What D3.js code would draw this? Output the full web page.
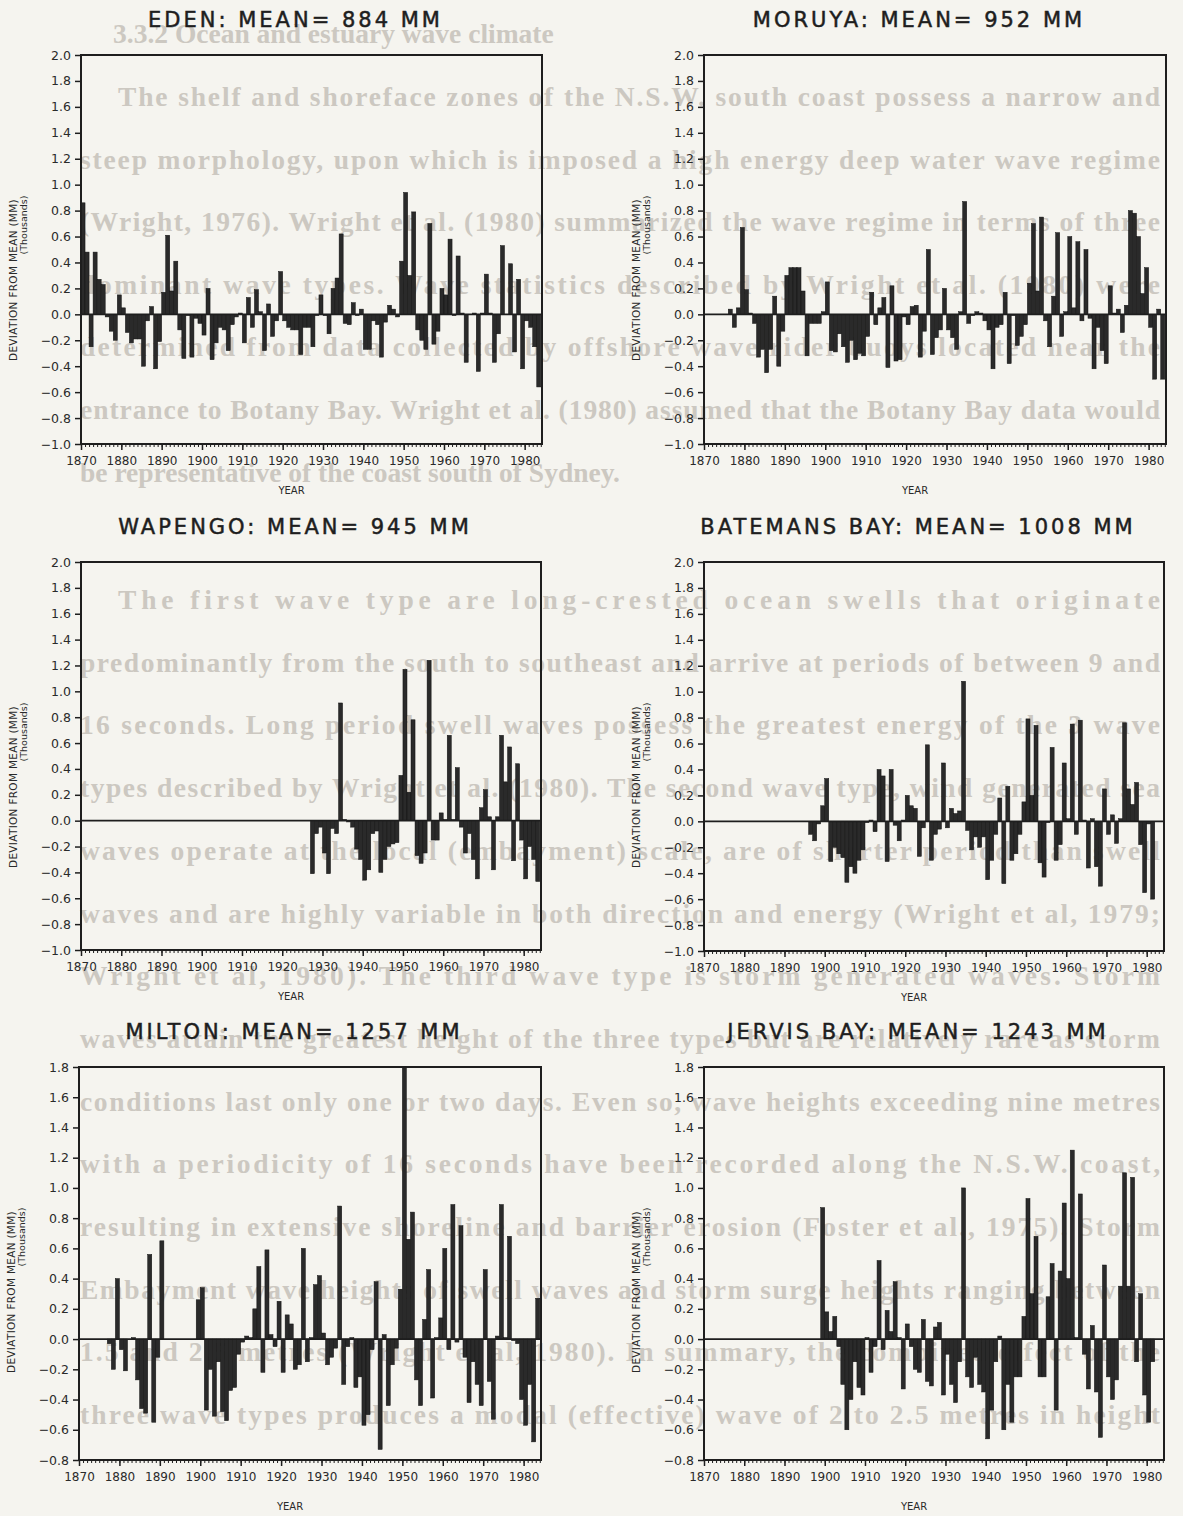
<!DOCTYPE html>
<html>
<head>
<meta charset="utf-8">
<script src="https://cdn.jsdelivr.net/npm/d3@7"></script>
<style>
  body { margin: 0; background: #f5f4ef; }
  svg { display: block; }
</style>
</head>
<body>
<div id="page"></div>
<script>
// annual rainfall, deviation from station mean (thousands of mm), 1870-1983
// null = no record for that year
const firstYear = 1870;

const edenDev = [
  0.86, 0.48, -0.25, 0.48, 0.27, 0.23, -0.02, -0.13, -0.2, 0.15,
  0.05, -0.14, -0.22, -0.19, -0.19, -0.4, -0.05, 0.06, -0.42, -0.21,
  0.17, 0.61, 0.18, 0.41, -0.12, -0.34, -0.01, -0.33, -0.03, -0.07,
  -0.16, 0.2, -0.35, -0.22, -0.1, -0.12, -0.28, -0.08, -0.02, 0.01,
  -0.22, 0.13, -0.1, 0.19, 0.02, -0.28, 0.08, -0.17, -0.05, 0.33,
  -0.05, -0.1, -0.12, -0.12, -0.31, -0.1, -0.1, -0.25, -0.01, 0.15,
  -0.01, -0.15, 0.2, 0.28, 0.62, -0.07, -0.08, 0.09, -0.01, 0.04,
  -0.27, -0.27, -0.05, -0.08, -0.33, -0.06, 0.07, 0.04, -0.02, 0.41,
  0.94, 0.3, 0.79, -0.12, -0.2, -0.27, 0.7, -0.23, -0.13, 0.2,
  0.15, 0.58, -0.01, 0.45, 0.01, -0.37, 0.0, 0.01, -0.44, 0.01,
  0.31, 0.01, -0.37, -0.15, 0.53, 0.0, 0.39, -0.29, 0.27, -0.42,
  -0.05, -0.1, -0.25, -0.56
];

const moruyaDev = [
  null, null, null, null, null, null, 0.04, -0.1, 0.05, 0.67,
  0.19, 0.01, -0.07, -0.33, -0.27, -0.45, -0.27, 0.14, -0.4, -0.13,
  0.3, 0.36, 0.36, 0.36, 0.18, -0.32, -0.07, -0.07, -0.07, 0.02,
  0.25, -0.28, -0.29, -0.15, -0.25, -0.37, -0.2, -0.35, -0.3, -0.32,
  -0.17, 0.17, -0.08, 0.05, 0.13, -0.41, 0.22, -0.36, -0.35, -0.02,
  -0.08, 0.06, 0.07, -0.33, -0.13, 0.5, -0.31, -0.18, -0.12, 0.2,
  -0.12, -0.18, -0.27, 0.02, 0.87, -0.07, -0.01, 0.02, 0.01, -0.05,
  -0.12, -0.42, -0.1, -0.08, 0.17, -0.38, -0.01, -0.24, -0.17, -0.08,
  0.24, 0.7, 0.18, 0.75, -0.05, -0.25, 0.14, 0.63, -0.17, 0.02,
  0.6, 0.05, 0.56, -0.05, 0.5, -0.03, -0.42, -0.1, -0.28, -0.38,
  0.22, 0.01, 0.04, -0.14, 0.07, 0.8, 0.78, 0.6, 0.16, 0.36,
  -0.1, -0.5, 0.04, -0.5
];

const wapengoDev = [
  null, null, null, null, null, null, null, null, null, null,
  null, null, null, null, null, null, null, null, null, null,
  null, null, null, null, null, null, null, null, null, null,
  null, null, null, null, null, null, null, null, null, null,
  null, null, null, null, null, null, null, null, null, null,
  null, null, null, null, null, null, null, -0.41, -0.1, -0.05,
  -0.25, -0.41, -0.06, -0.1, 0.91, 0.01, -0.01, -0.05, -0.22, -0.3,
  -0.46, -0.38, -0.1, -0.08, -0.4, -0.3, -0.2, -0.18, -0.17, 0.35,
  1.17, 0.22, 0.78, -0.27, -0.33, -0.25, 1.24, -0.15, -0.15, 0.06,
  0.01, 0.66, 0.01, 0.41, -0.05, -0.25, -0.1, -0.3, -0.45, 0.1,
  0.24, 0.03, -0.38, 0.03, 0.66, 0.3, 0.57, -0.31, 0.44, -0.15,
  -0.45, -0.2, -0.3, -0.47
];

const batemansDev = [
  null, null, null, null, null, null, null, null, null, null,
  null, null, null, null, null, null, null, null, null, null,
  null, null, null, null, null, null, -0.1, -0.15, -0.02, 0.12,
  0.33, -0.31, -0.2, -0.25, -0.28, -0.47, -0.35, -0.4, -0.3, -0.22,
  -0.01, 0.01, -0.08, 0.4, 0.35, -0.31, 0.4, -0.03, -0.15, 0.01,
  0.2, 0.12, 0.1, -0.27, -0.05, 0.59, -0.3, -0.1, -0.06, 0.45,
  -0.05, 0.1, 0.06, 0.08, 1.08, -0.07, -0.22, -0.12, -0.2, -0.12,
  -0.45, -0.3, -0.1, 0.18, -0.48, 0.27, -0.3, -0.25, -0.1, 0.15,
  0.79, 0.2, 0.74, -0.32, -0.43, -0.01, 0.57, -0.3, -0.18, 0.45,
  0.02, 0.75, -0.1, 0.78, 0.01, -0.36, 0.02, -0.35, -0.5, 0.25,
  -0.1, 0.05, -0.17, 0.02, 0.76, 0.25, 0.13, 0.3, -0.18, -0.55,
  -0.02, -0.6, null, null
];

const miltonDev = [
  null, null, null, null, null, null, null, -0.03, -0.2, 0.4,
  -0.07, -0.21, 0.0, 0.01, -0.27, -0.46, -0.49, 0.56, -0.55, -0.12,
  0.65, null, null, null, null, null, null, null, null, 0.26,
  0.34, -0.47, -0.2, -0.51, -0.15, -0.48, -0.54, -0.34, -0.32, -0.1,
  -0.02, 0.02, 0.01, 0.2, 0.48, -0.22, 0.59, 0.03, -0.05, 0.25,
  -0.22, 0.16, 0.1, -0.2, -0.17, 0.6, -0.15, 0.01, 0.36, 0.42,
  0.04, -0.17, -0.12, -0.06, 0.88, -0.3, -0.05, 0.01, -0.32, -0.25,
  -0.57, -0.5, -0.07, 0.38, -0.73, 0.03, -0.44, -0.17, -0.06, 0.33,
  1.8, 0.66, 0.84, -0.27, -0.44, 0.13, 0.46, -0.39, 0.01, 0.14,
  0.6, -0.07, 0.89, -0.02, 0.75, -0.12, -0.42, -0.15, -0.3, -0.44,
  0.46, -0.28, -0.53, 0.02, 0.89, 0.01, 0.68, -0.01, -0.03, -0.4,
  -0.57, -0.3, -0.68, 0.27
];

const jervisDev = [
  null, null, null, null, null, null, null, null, null, null,
  null, null, null, null, null, null, null, null, null, null,
  null, null, null, null, null, null, null, null, null, 0.87,
  0.18, 0.05, 0.15, -0.05, -0.3, -0.6, -0.4, -0.15, -0.32, -0.37,
  0.01, -0.22, -0.05, 0.52, -0.07, 0.19, 0.05, 0.38, 0.01, -0.33,
  0.1, -0.05, -0.2, -0.22, 0.13, -0.28, -0.31, 0.08, 0.11, -0.37,
  -0.1, -0.3, -0.42, -0.15, 1.0, -0.25, -0.32, -0.12, -0.3, -0.35,
  -0.66, -0.47, -0.15, 0.02, -0.6, -0.3, -0.55, -0.25, -0.25, 0.15,
  0.93, 0.3, 0.68, -0.25, -0.25, 0.28, 0.5, -0.47, 0.45, 0.9,
  0.4, 1.25, 0.01, 0.96, -0.1, -0.33, 0.09, -0.35, -0.65, 0.49,
  -0.25, -0.4, -0.27, 0.35, 1.1, 0.35, 1.07, -0.15, 0.3, -0.37,
  -0.55, -0.15, null, null
];

const stationNames = ["EDEN", "MORUYA", "WAPENGO", "BATEMANS BAY", "MILTON", "JERVIS BAY"];
const stationMeans = [884, 952, 945, 1008, 1257, 1243];
const stationSeries = [edenDev, moruyaDev, wapengoDev, batemansDev, miltonDev, jervisDev];

const yTicksUpper = [-1.0, -0.8, -0.6, -0.4, -0.2, 0.0, 0.2, 0.4, 0.6, 0.8, 1.0, 1.2, 1.4, 1.6, 1.8, 2.0];
const yTicksLower = [-0.8, -0.6, -0.4, -0.2, 0.0, 0.2, 0.4, 0.6, 0.8, 1.0, 1.2, 1.4, 1.6, 1.8];
const decadeTicks = [1870, 1880, 1890, 1900, 1910, 1920, 1930, 1940, 1950, 1960, 1970, 1980];

// faded text from the page behind (scan bleed-through)
const bgHeading = "3.3.2 Ocean and estuary wave climate";
const bgPara1 = [
  "The shelf and shoreface zones of the N.S.W. south coast possess a narrow and",
  "steep morphology, upon which is imposed a high energy deep water wave regime",
  "(Wright, 1976). Wright et al. (1980) summarized the wave regime in terms of three",
  "dominant wave types. Wave statistics described by Wright et al. (1980) were",
  "determined from data collected by offshore wave rider buoys located near the",
  "entrance to Botany Bay. Wright et al. (1980) assumed that the Botany Bay data would",
  "be representative of the coast south of Sydney."
];
const bgPara2 = [
  "The first wave type are long-crested ocean swells that originate",
  "predominantly from the south to southeast and arrive at periods of between 9 and",
  "16 seconds. Long period swell waves possess the greatest energy of the 3 wave",
  "types described by Wright et al. (1980). The second wave type, wind generated sea",
  "waves operate at the local (embayment) scale, are of shorter period than swell",
  "waves and are highly variable in both direction and energy (Wright et al, 1979;",
  "Wright et al, 1980). The third wave type is storm generated waves. Storm",
  "waves attain the greatest height of the three types but are relatively rare as storm",
  "conditions last only one or two days. Even so, wave heights exceeding nine metres",
  "with a periodicity of 16 seconds have been recorded along the N.S.W. coast,",
  "resulting in extensive shoreline and barrier erosion (Foster et al., 1975). Storm",
  "Embayment wave heights of swell waves and storm surge heights ranging between",
  "1.5 and 2.5 metres (Wright et al, 1980). In summary, the combined effect of the",
  "three wave types produces a modal (effective) wave of 2 to 2.5 metres in height"
];

const W = 1183, H = 1516;
const svg = d3.select("#page").append("svg")
  .attr("width", W)
  .attr("height", H);

svg.append("rect").attr("width", W).attr("height", H).attr("fill", "#f5f4ef");

// background page text
const bg = svg.append("g")
  .attr("font-family", "'Liberation Serif', 'DejaVu Serif', serif")
  .attr("font-weight", "bold")
  .attr("font-size", 27.5)
  .attr("fill", "#ccc8c1");

bg.append("text").attr("x", 113).attr("y", 43).text(bgHeading);

function bgLine(txt, y, indent, justify) {
  const t = bg.append("text").attr("x", indent).attr("y", y).text(txt);
  if (justify) t.attr("textLength", 1160 - indent).attr("lengthAdjust", "spacing");
}
bgPara1.forEach((s, i) => bgLine(s, 106 + i * 62.6, i === 0 ? 118 : 80, i < bgPara1.length - 1));
bgPara2.forEach((s, i) => bgLine(s, 609 + i * 62.7, i === 0 ? 118 : 80, true));

// panel boxes
const panels = [
  { x0: 81,  x1: 542,  y0: 55,   y1: 444,  ticks: yTicksUpper },
  { x0: 704, x1: 1166, y0: 55,   y1: 444,  ticks: yTicksUpper },
  { x0: 81,  x1: 541,  y0: 562,  y1: 950,  ticks: yTicksUpper },
  { x0: 704, x1: 1164, y0: 562,  y1: 951,  ticks: yTicksUpper },
  { x0: 79,  x1: 541,  y0: 1067, y1: 1460, ticks: yTicksLower },
  { x0: 704, x1: 1164, y0: 1067, y1: 1460, ticks: yTicksLower }
];

const ink = "#1e1e1e";
const fmt = v => (v < 0 ? "\u2212" : "") + Math.abs(v).toFixed(1);

panels.forEach((p, i) => {
  const series = stationSeries[i];
  const data = series.map((v, k) => ({ year: firstYear + k, value: v }))
    .filter(d => d.value !== null);

  const x = d3.scaleLinear()
    .domain([1870, 1984.3])
    .range([p.x0, p.x1]);
  const y = d3.scaleLinear()
    .domain([p.ticks[0], p.ticks[p.ticks.length - 1]])
    .range([p.y1, p.y0]);

  const g = svg.append("g");

  // title
  g.append("text")
    .attr("x", (p.x0 + p.x1) / 2 - 16)
    .attr("y", p.y0 - 28)
    .attr("text-anchor", "middle")
    .attr("font-family", "'DejaVu Sans', sans-serif")
    .attr("font-size", 21)
    .attr("letter-spacing", 3)
    .attr("fill", ink)
    .attr("stroke", ink)
    .attr("stroke-width", 0.5)
    .text(stationNames[i] + ": MEAN= " + stationMeans[i] + " MM");

  // bars
  g.append("g")
    .selectAll("rect")
    .data(data)
    .join("rect")
    .attr("x", d => x(d.year))
    .attr("width", d => x(d.year + 1) - x(d.year))
    .attr("y", d => y(Math.max(0, d.value)))
    .attr("height", d => Math.abs(y(d.value) - y(0)))
    .attr("fill", "#2a2a2a")
    .attr("stroke", "#111")
    .attr("stroke-width", 0.5);

  // zero line
  g.append("line")
    .attr("x1", p.x0).attr("x2", p.x1)
    .attr("y1", y(0)).attr("y2", y(0))
    .attr("stroke", ink).attr("stroke-width", 1.6);

  // frame
  g.append("rect")
    .attr("x", p.x0).attr("y", p.y0)
    .attr("width", p.x1 - p.x0).attr("height", p.y1 - p.y0)
    .attr("fill", "none")
    .attr("stroke", ink)
    .attr("stroke-width", 2);

  // y axis
  const yAxis = g.append("g")
    .attr("transform", `translate(${p.x0},0)`)
    .call(d3.axisLeft(y).tickValues(p.ticks).tickSize(6).tickPadding(4).tickFormat(fmt));
  yAxis.select(".domain").remove();
  yAxis.selectAll("line").attr("stroke", ink).attr("stroke-width", 1.5);
  yAxis.selectAll("text")
    .attr("font-family", "'DejaVu Sans', sans-serif")
    .attr("font-size", 12.5)
    .attr("fill", "#2a2a2a");

  // x axis: minor yearly ticks + decade ticks with labels
  const xMinor = g.append("g")
    .attr("transform", `translate(0,${p.y1})`)
    .call(d3.axisBottom(x).tickValues(d3.range(1870, 1985)).tickSize(3).tickFormat(""));
  xMinor.select(".domain").remove();
  xMinor.selectAll("line").attr("stroke", ink).attr("stroke-width", 1);

  const xAxis = g.append("g")
    .attr("transform", `translate(0,${p.y1})`)
    .call(d3.axisBottom(x).tickValues(decadeTicks).tickSize(6).tickPadding(6).tickFormat(d3.format("d")));
  xAxis.select(".domain").remove();
  xAxis.selectAll("line").attr("stroke", ink).attr("stroke-width", 1.5);
  xAxis.selectAll("text")
    .attr("font-family", "'DejaVu Sans', sans-serif")
    .attr("font-size", 12)
    .attr("fill", "#2a2a2a");

  // axis titles
  g.append("text")
    .attr("x", (p.x0 + p.x1) / 2 - 20)
    .attr("y", p.y1 + 50)
    .attr("text-anchor", "middle")
    .attr("font-family", "'DejaVu Sans', sans-serif")
    .attr("font-size", 10)
    .attr("fill", "#2a2a2a")
    .text("YEAR");

  const lx = p.x0 - 64;
  g.append("text")
    .attr("transform", `translate(${lx},${p.y0 + 225}) rotate(-90)`)
    .attr("text-anchor", "middle")
    .attr("font-family", "'DejaVu Sans', sans-serif")
    .attr("font-size", 10.5)
    .attr("letter-spacing", 0.3)
    .attr("fill", "#2a2a2a")
    .text("DEVIATION FROM MEAN (MM)");
  g.append("text")
    .attr("transform", `translate(${lx + 10},${p.y0 + 170}) rotate(-90)`)
    .attr("text-anchor", "middle")
    .attr("font-family", "'DejaVu Sans', sans-serif")
    .attr("font-size", 9.5)
    .attr("fill", "#2a2a2a")
    .text("(Thousands)");
});
</script>
</body>
</html>
